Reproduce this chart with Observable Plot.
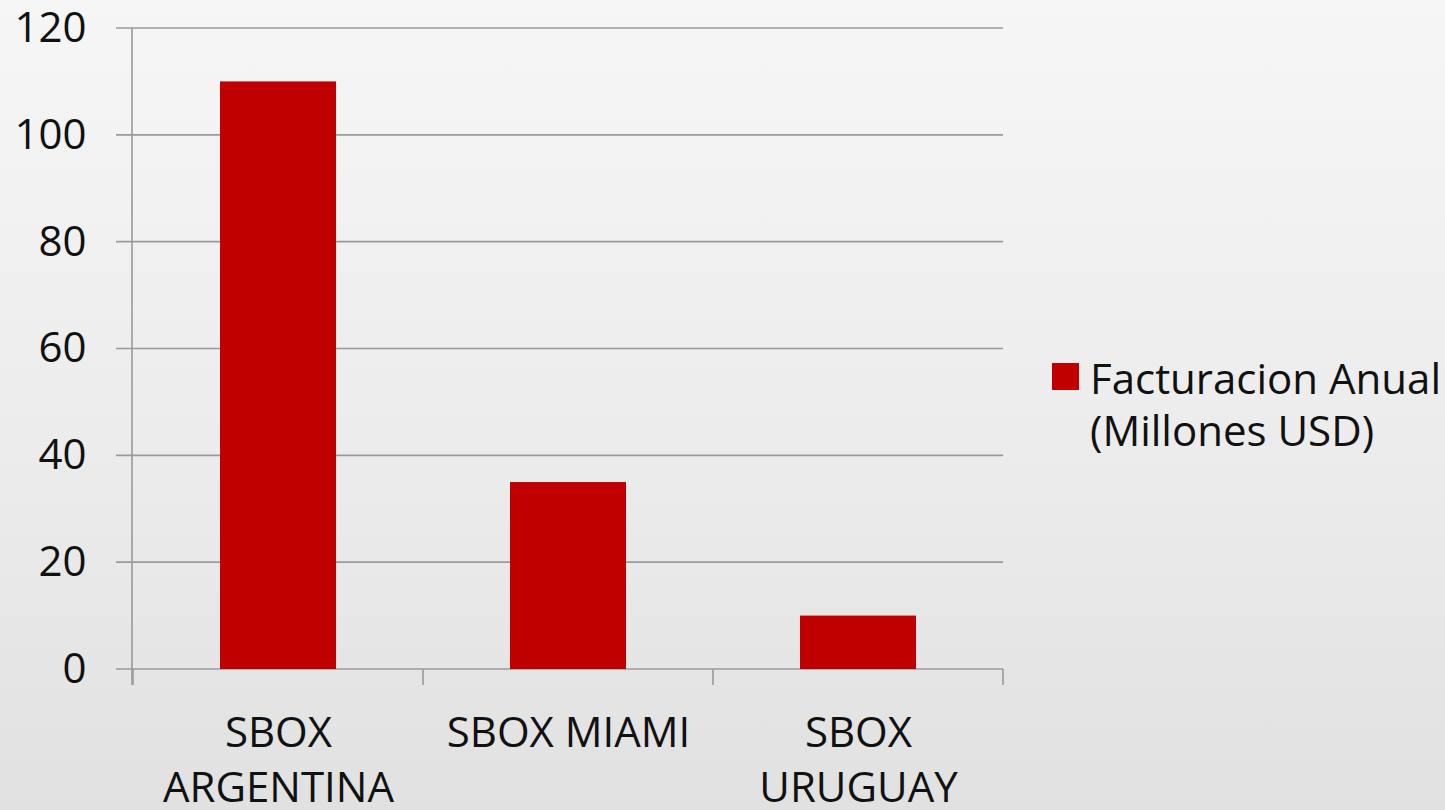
<!DOCTYPE html>
<html>
<head>
<meta charset="utf-8">
<script src="https://cdn.jsdelivr.net/npm/d3@7"></script>
<script src="https://cdn.jsdelivr.net/npm/@observablehq/plot@0.6"></script>
<style>
  html, body { margin: 0; padding: 0; }
  body {
    width: 1445px; height: 810px; overflow: hidden; position: relative;
    background: linear-gradient(to bottom, #f6f6f6 0%, #ececec 55%, #e1e1e1 100%);
    font-family: "Open Sans", sans-serif;
  }
  #chart { position: absolute; left: 0; top: 0; }
  #chart svg { background: transparent; }
  #legend { position: absolute; left: 1052px; top: 352px; display: flex; align-items: flex-start; font-family: "Open Sans", sans-serif; font-size: 42px; line-height: 52px; color: #111; white-space: nowrap; }
  #legend .sw { width: 27px; height: 27px; background: #c00000; margin-top: 11px; margin-right: 11px; flex: none; }
</style>
</head>
<body>
<div id="chart"></div>
<div id="legend"><div class="sw"></div><div id="legtext"></div></div>
<script>
const categories = ["SBOX ARGENTINA", "SBOX MIAMI", "SBOX URUGUAY"];
const categoryLines = [["SBOX", "ARGENTINA"], ["SBOX MIAMI"], ["SBOX", "URUGUAY"]];
const values = [110, 35, 10];
const yTicks = [0, 20, 40, 60, 80, 100, 120];
const seriesName = ["Facturacion Anual", "(Millones USD)"];

const data = categories.map((c, i) => ({category: c, value: values[i]}));
const gridColor = "#9a9a9a";

const gridAndAxes = (index, scales, values, dims) => {
  const x = scales.x, y = scales.y;
  const g = d3.create("svg:g").attr("stroke", gridColor).attr("stroke-width", 1.6);
  // horizontal gridlines with outward tick stubs
  yTicks.forEach(t => {
    const yy = y(t);
    g.append("line").attr("x1", dims.marginLeft - 16).attr("x2", dims.width - dims.marginRight)
      .attr("y1", yy).attr("y2", yy);
  });
  const y0 = y(0);
  // vertical axis line
  g.append("line").attr("x1", dims.marginLeft).attr("x2", dims.marginLeft)
    .attr("y1", y(yTicks[yTicks.length - 1])).attr("y2", y0 + 16);
  // category boundary ticks
  const dom = x.domain();
  const bw = x.bandwidth();
  const step = dom.length > 1 ? x(dom[1]) - x(dom[0]) : bw;
  const bounds = [];
  dom.forEach((d, i) => {
    const c = x(d) + bw / 2;
    if (i === 0) bounds.push(c - step / 2);
    bounds.push(c + step / 2);
  });
  bounds.forEach(b => {
    g.append("line").attr("x1", b).attr("x2", b).attr("y1", y0).attr("y2", y0 + 16);
  });
  return g.node();
};

const chart = Plot.plot({
  width: 1445,
  height: 810,
  marginLeft: 132,
  marginRight: 442,
  marginTop: 28,
  marginBottom: 141,
  style: {background: "transparent", fontFamily: "Open Sans, sans-serif", fontSize: "42px", color: "#111"},
  x: {domain: categories, paddingInner: 0.6, paddingOuter: 0.3, label: null},
  y: {domain: [0, 120], ticks: yTicks, label: null},
  marks: [
    Plot.ruleY([0], {render: gridAndAxes}),
    Plot.barY(data, {x: "category", y: "value", fill: "#c00000"}),
    Plot.axisY({ticks: yTicks, tickSize: 0, tickPadding: 46, fontSize: 42, fill: "#111"}),
    Plot.axisX({tickSize: 0, tickPadding: 38, fontSize: 42, fill: "#111", lineHeight: 1.31,
      tickFormat: d => categoryLines[categories.indexOf(d)].join("\n")})
  ]
});
document.getElementById("chart").appendChild(chart);
document.getElementById("legtext").innerHTML = seriesName.join("<br>");
</script>
</body>
</html>
